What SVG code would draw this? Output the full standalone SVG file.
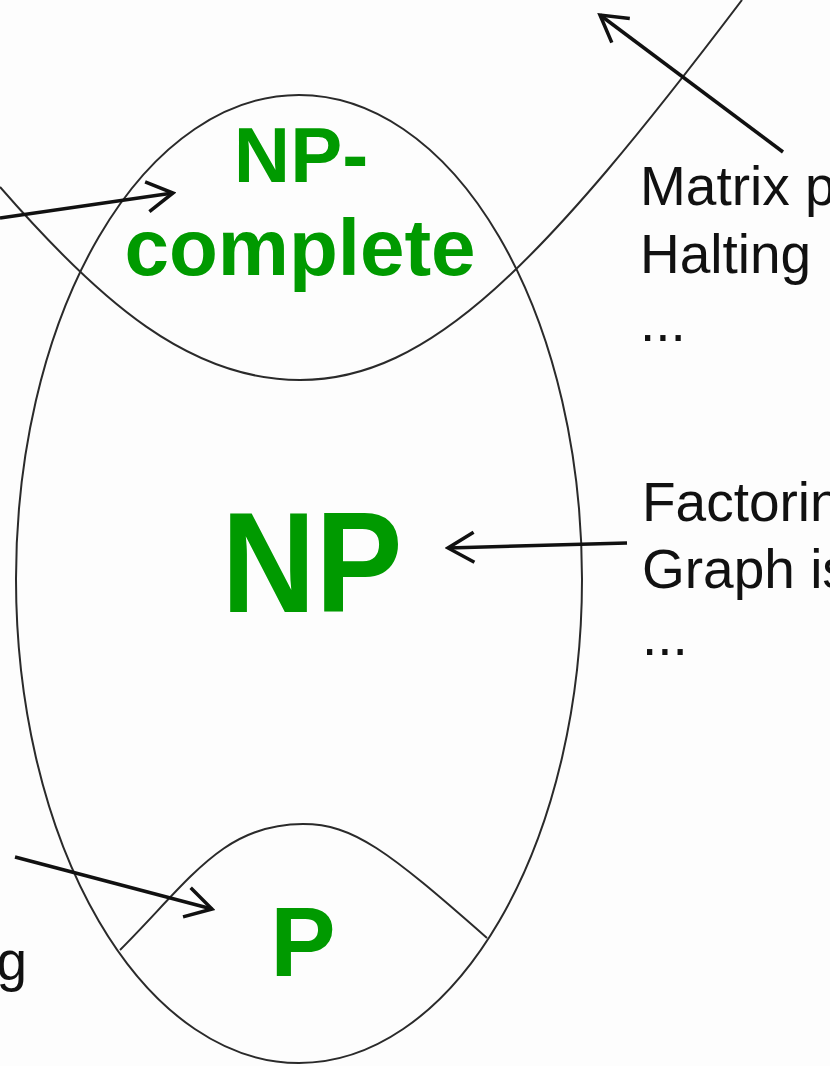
<svg xmlns="http://www.w3.org/2000/svg" width="830" height="1066" viewBox="0 0 830 1066">
<style>
.shape{fill:none;stroke:#2a2a2a;stroke-width:2}
.arrow{fill:none;stroke:#111;stroke-width:3.5;marker-end:url(#head)}
.green{font-family:"Liberation Sans",Arial,sans-serif;font-weight:bold;fill:#009a00;text-anchor:middle}
.label{font-family:"Liberation Sans",Arial,sans-serif;font-size:55px;fill:#111}
</style>
<defs>
<marker id="head" viewBox="0 0 32 36" refX="29" refY="18" markerWidth="32" markerHeight="36" markerUnits="userSpaceOnUse" orient="auto">
<path d="M3,3 L29,18 L3,33" fill="none" stroke="#111" stroke-width="3.5" stroke-linejoin="miter"/>
</marker>
</defs>
<rect width="830" height="1066" fill="#fdfdfd"/>
<g id="np">
<ellipse class="shape" cx="299" cy="579" rx="283" ry="484"/>
<text class="green" x="312" y="612" font-size="142" textLength="181" lengthAdjust="spacingAndGlyphs">NP</text>
</g>
<g id="np-complete">
<path class="shape" d="M0,187 C100,302 190,380 300,380 C430,380 542,264 742,0"/>
<text class="green" x="301" y="182" font-size="78">NP-</text>
<text class="green" x="300" y="275" font-size="80">complete</text>
</g>
<g id="p">
<path class="shape" d="M120,950 C190,880 223,824 303,824 C353,824 387,850 487,938"/>
<text class="green" x="303" y="976" font-size="98">P</text>
</g>
<g id="labels">
<text class="label" x="640" y="205">Matrix p</text>
<text class="label" x="640" y="273">Halting</text>
<text class="label" x="640" y="341">...</text>
<text class="label" x="642" y="521">Factorin</text>
<text class="label" x="642" y="588">Graph is</text>
<text class="label" x="642" y="655">...</text>
<text class="label" x="27" y="980" text-anchor="end">g</text>
</g>
<g id="connectors">
<line class="arrow" x1="0" y1="218" x2="173" y2="193"/>
<line class="arrow" x1="783" y1="152" x2="600" y2="15"/>
<line class="arrow" x1="627" y1="543" x2="448" y2="548"/>
<line class="arrow" x1="15" y1="857" x2="212" y2="909"/>
</g>
</svg>
